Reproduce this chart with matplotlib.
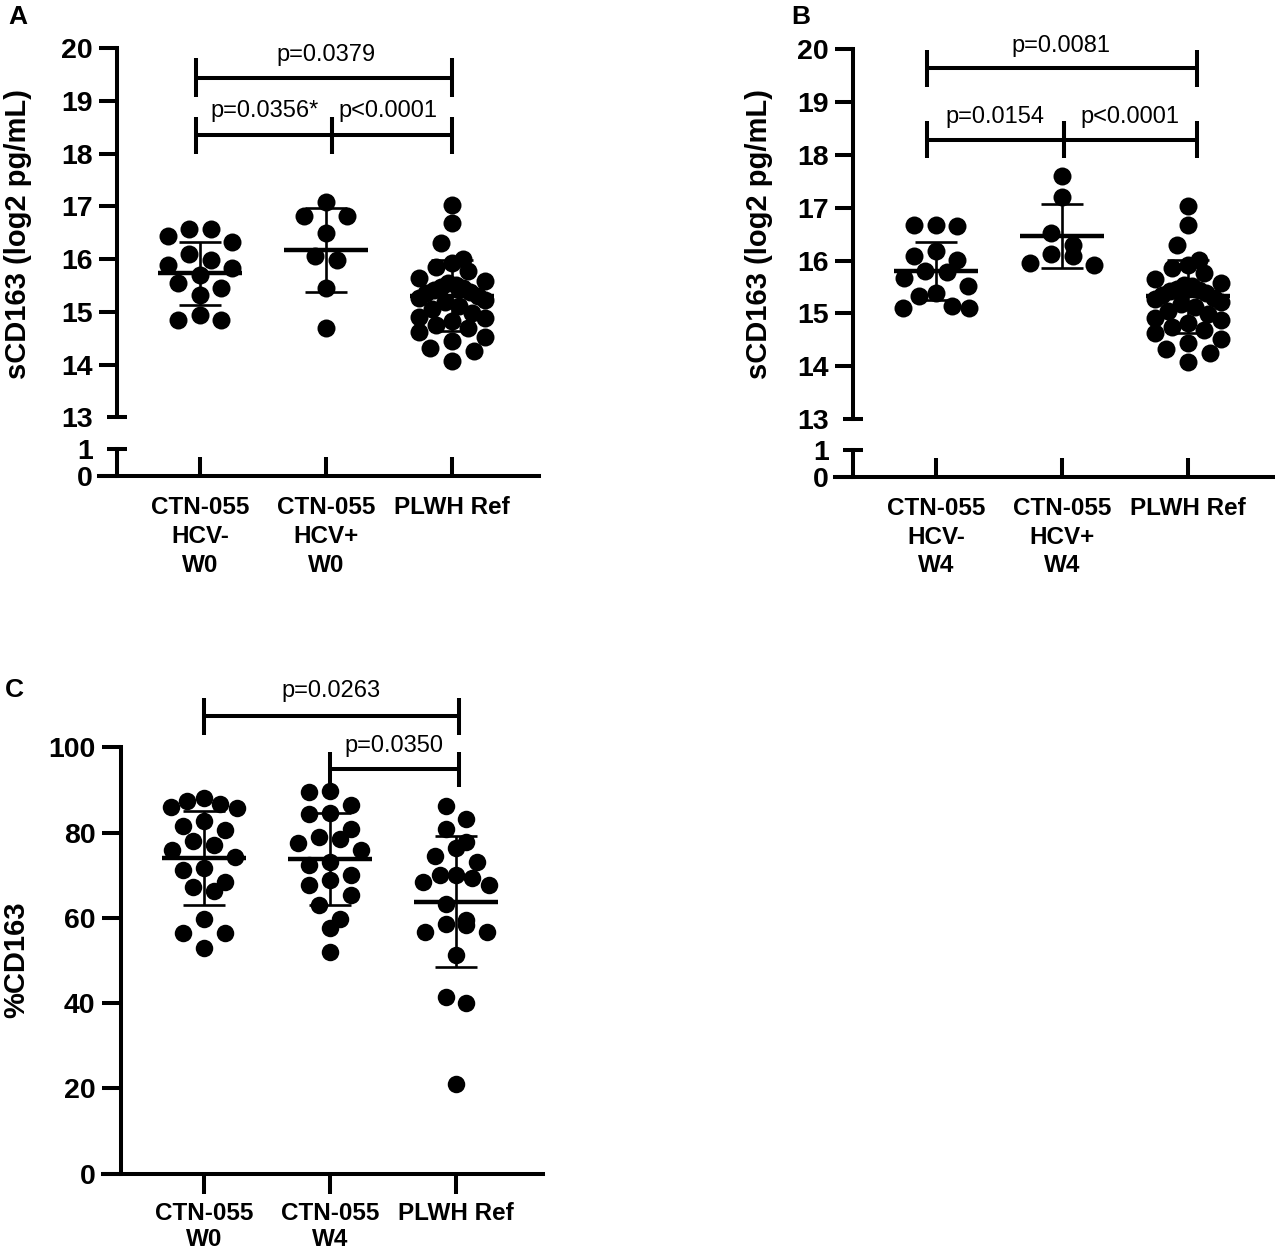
import matplotlib.pyplot as plt
import numpy as np

plt.rcParams['font.family'] = ['Liberation Sans', 'DejaVu Sans']
plt.rcParams['font.weight'] = 'bold'

# x tick labels
labels_a = ['CTN-055\nHCV-\nW0', 'CTN-055\nHCV+\nW0', 'PLWH Ref']
labels_b = ['CTN-055\nHCV-\nW4', 'CTN-055\nHCV+\nW4', 'PLWH Ref']
labels_c = ['CTN-055\nW0', 'CTN-055\nW4', 'PLWH Ref']

# sCD163 (log2 pg/mL)
hcv_neg_w0 = [16.43, 16.58, 16.58, 16.32, 15.98, 16.09, 15.83, 15.88, 15.70,
              15.45, 15.54, 15.32, 14.84, 14.94, 14.84]
hcv_pos_w0 = [17.09, 16.81, 16.81, 16.50, 15.98, 16.06, 15.45, 14.69]
hcv_neg_w4 = [16.68, 16.65, 16.68, 16.08, 16.01, 16.19, 15.79, 15.81, 15.52,
              15.67, 15.38, 15.33, 15.14, 15.10, 15.10]
hcv_pos_w4 = [17.61, 17.20, 16.52, 16.30, 16.13, 16.08, 15.92, 15.95]
plwh_scd163 = [17.03, 16.68, 16.30, 16.01, 15.92, 15.86, 15.77, 15.65, 15.58,
               15.54, 15.51, 15.47, 15.45, 15.42, 15.38, 15.35, 15.30, 15.27,
               15.22, 15.18, 15.12, 15.05, 14.98, 14.91, 14.88, 14.82, 14.75,
               14.69, 14.62, 14.52, 14.44, 14.32, 14.25, 14.07]

# %CD163
cd163_w0 = [86.7, 87.5, 88.2, 85.9, 85.7, 82.8, 81.6, 80.6, 77.9, 77.1, 75.9,
            74.2, 71.7, 71.1, 68.4, 67.2, 66.4, 59.8, 56.5, 56.5, 52.8]
cd163_w4 = [89.4, 89.8, 86.4, 84.7, 84.3, 80.8, 78.9, 78.5, 77.6, 75.8, 73.1,
            72.3, 70.1, 68.8, 67.6, 65.4, 62.9, 59.6, 57.5, 52.0]
cd163_plwh = [86.3, 83.2, 80.8, 77.7, 76.3, 74.5, 73.1, 70.1, 68.5, 69.3, 67.6,
              70.1, 63.3, 58.6, 56.7, 58.4, 56.7, 59.5, 51.2, 40.0, 41.3, 21.0]

# mean and SD bars as drawn
mean_a = [15.73, 16.17, 15.31]
sd_a = [0.60, 0.80, 0.68]
mean_b = [15.81, 16.46, 15.32]
sd_b = [0.55, 0.61, 0.69]
mean_c = [74.0, 73.8, 63.8]
sd_c = [11.0, 10.7, 15.4]

# p values
p_a = ['p=0.0379', 'p=0.0356*', 'p<0.0001']
p_b = ['p=0.0081', 'p=0.0154', 'p<0.0001']
p_c = ['p=0.0263', 'p=0.0350']

W, H = 1275, 1252
XPX = 126.3          # pixels between groups
XLIM = (-0.80, 2.69)
YAX = -0.66          # where the y axis sits (data x)
LW = 2.9
TICKFS = 20.5
XLABFS = 17.5

fig = plt.figure(figsize=(W / 100, H / 100), dpi=100)


def add_ax(left, ytop, ybot):
    return fig.add_axes([left / W, 1 - ybot / H, 440 / W, (ybot - ytop) / H])


def spread(vals, ypx, d):
    # GraphPad-like scatter: walk down from the top, points within one dot
    # height of a row's first point share that row and are spread sideways
    v = np.asarray(vals, float)
    h = d / ypx
    order = np.argsort(-v, kind='stable')
    off = np.zeros(len(v))
    rows, cur = [], []
    for i in order:
        if cur and v[cur[0]] - v[i] >= h:
            rows.append(cur)
            cur = []
        cur.append(i)
    rows.append(cur)
    for row in rows:
        n = len(row)
        if n == 1:
            continue
        step = min(1.2 * d, 66.0 / (n - 1))
        slots = (np.arange(n) - (n - 1) / 2) * step
        slots = slots[np.argsort(np.abs(slots), kind='stable')]
        off[row] = slots
    return off / XPX


def draw_groups(ax, groups, means, sds, ypx, d=18.0):
    for i, vals in enumerate(groups):
        x = i + spread(vals, ypx, d)
        ax.scatter(x, vals, s=(d * 0.72) ** 2, color='black', linewidths=0,
                   zorder=3, clip_on=False)
        m, s = means[i], sds[i]
        ax.hlines(m, i - 0.333, i + 0.333, color='black', lw=3.2, zorder=4)
        ax.vlines(i, m - s, m + s, color='black', lw=1.9, zorder=4)
        ax.hlines([m - s, m + s], i - 0.166, i + 0.166, color='black', lw=1.9, zorder=4)


def bracket(ax, x1, x2, y, h):
    kw = dict(color='black', lw=LW, clip_on=False, solid_capstyle='butt')
    ax.plot([x1, x2], [y, y], **kw)
    ax.plot([x1, x1], [y - h, y + h], **kw)
    ax.plot([x2, x2], [y - h, y + h], **kw)


def ptext(ax, x, y, s):
    ax.text(x, y, s, ha='center', va='baseline', fontsize=17, fontweight='normal')


def base_style(ax):
    ax.set_xlim(XLIM)
    for s in ['top', 'right']:
        ax.spines[s].set_visible(False)
    ax.spines['left'].set_position(('data', YAX))
    ax.spines['left'].set_linewidth(LW)
    ax.spines['bottom'].set_linewidth(LW)
    ax.patch.set_alpha(0)


def broken_panel(left, y20, y13, y1, y0, groups, means, sds, labels):
    top = add_ax(left, y20, y13)
    bot = add_ax(left, y1, y0)
    for ax in (top, bot):
        base_style(ax)
    top.spines['bottom'].set_visible(False)
    top.set_ylim(13, 20)
    top.set_xticks([])
    top.set_yticks(range(14, 21))
    top.set_yticks([13], labels=['13'], minor=True)
    bot.set_ylim(0, 1)
    bot.set_yticks([0])
    bot.set_yticks([1], labels=['1'], minor=True)
    for ax in (top, bot):
        ax.tick_params(axis='y', which='major', direction='out', length=13,
                       width=LW, pad=4.3, labelsize=TICKFS)
        ax.tick_params(axis='y', which='minor', direction='inout', length=14.4,
                       width=LW, pad=10.1, labelsize=TICKFS)
    bot.set_xticks(range(3), labels)
    bot.tick_params(axis='x', direction='in', length=13.7, width=LW, pad=14.5,
                    labelsize=XLABFS)
    for t in bot.get_xticklabels():
        t.set_linespacing(1.32)
    draw_groups(top, groups, means, sds, (y13 - y20) / 7)
    return top


# ---- A ----
ax_a = broken_panel(99, 48.3, 417.3, 449, 476,
                    [hcv_neg_w0, hcv_pos_w0, plwh_scd163], mean_a, sd_a, labels_a)
bracket(ax_a, -0.03, 2.0, 19.44, 0.37)
bracket(ax_a, -0.03, 1.05, 18.35, 0.35)
bracket(ax_a, 1.05, 2.0, 18.35, 0.35)
ptext(ax_a, 1.0, 19.76, p_a[0])
ptext(ax_a, 0.51, 18.69, p_a[1])
ptext(ax_a, 1.49, 18.69, p_a[2])

# ---- B ----
ax_b = broken_panel(835, 49.3, 419, 450, 476.7,
                    [hcv_neg_w4, hcv_pos_w4, plwh_scd163], mean_b, sd_b, labels_b)
bracket(ax_b, -0.07, 2.07, 19.64, 0.355)
bracket(ax_b, -0.07, 1.02, 18.29, 0.355)
bracket(ax_b, 1.02, 2.07, 18.29, 0.355)
ptext(ax_b, 0.99, 19.94, p_b[0])
ptext(ax_b, 0.47, 18.60, p_b[1])
ptext(ax_b, 1.54, 18.60, p_b[2])

# ---- C ----
ax_c = add_ax(103, 747.3, 1173.5)
base_style(ax_c)
ax_c.set_ylim(0, 100)
ax_c.set_yticks(range(0, 101, 20))
ax_c.tick_params(axis='y', direction='out', length=13.7, width=LW, pad=4.5,
                 labelsize=TICKFS)
ax_c.set_xticks(range(3), labels_c)
ax_c.tick_params(axis='x', direction='out', length=14.4, width=LW, pad=6,
                 labelsize=XLABFS)
for t in ax_c.get_xticklabels():
    t.set_linespacing(1.15)
draw_groups(ax_c, [cd163_w0, cd163_w4, cd163_plwh], mean_c, sd_c,
            (1173.5 - 747.3) / 100, d=17.5)
bracket(ax_c, 0.0, 2.02, 107.3, 4.3)
bracket(ax_c, 1.0, 2.02, 94.8, 4.2)
ptext(ax_c, 1.01, 111.7, p_c[0])
ptext(ax_c, 1.51, 98.8, p_c[1])

# axis titles and panel letters
fig.text(18 / W, 1 - 234 / H, 'sCD163 (log2 pg/mL)', rotation=90,
         ha='center', va='center', fontsize=21)
fig.text(759 / W, 1 - 234 / H, 'sCD163 (log2 pg/mL)', rotation=90,
         ha='center', va='center', fontsize=21)
fig.text(16 / W, 1 - 960 / H, '%CD163', rotation=90,
         ha='center', va='center', fontsize=21)
fig.text(18 / W, 1 - 17 / H, 'A', ha='center', va='center', fontsize=19)
fig.text(801 / W, 1 - 17 / H, 'B', ha='center', va='center', fontsize=19)
fig.text(14 / W, 1 - 690 / H, 'C', ha='center', va='center', fontsize=19)

fig.savefig('out.png', dpi=100)
